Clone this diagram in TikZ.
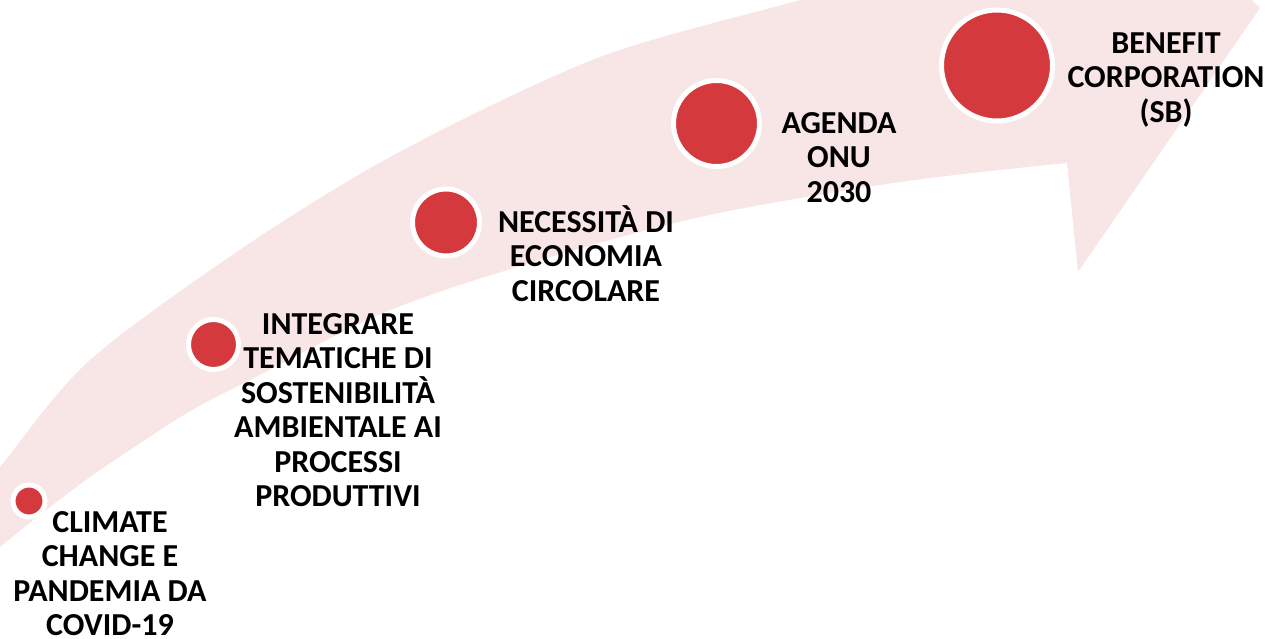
\documentclass[tikz,border=0pt]{standalone}
\usepackage{fontspec}
\setmainfont{Carlito}
\definecolor{arrowpink}{RGB}{248,229,230}
\definecolor{dotred}{RGB}{212,57,62}
\tikzset{
  dot/.style={circle, fill=dotred, draw=white, line width=5pt, inner sep=0pt},
  lbl/.style={anchor=north, align=center, inner sep=0pt, font=\bfseries\fontsize{32}{34.5}\selectfont},
}
\newcommand{\fst}{\rule{0pt}{28pt}}
\begin{document}
\begin{tikzpicture}[x=1pt,y=-1pt]
\useasboundingbox (0,0) rectangle (1268,639);
\begin{scope}
\clip (0,0) rectangle (1268,639);
\fill[arrowpink] plot[smooth] coordinates {(-40,515) (0,467) (90,360) (250,243) (403,150) (600,57) (800,0) (900,-30)}
  -- (1000,-250) -- (1260,8) -- (1078,272) -- (1067,163)
  -- plot[smooth] coordinates {(1067,163) (900,182) (700,217) (517,267) (383,313) (250,380) (187,413) (100,470) (50,507) (0,547) (-40,582)}
  -- cycle;
\end{scope}
\node[dot, minimum size=32pt] (c1) at (29,501) {};
\node[dot, minimum size=50pt] (c2) at (213.5,344.5) {};
\node[dot, minimum size=67pt] (c3) at (446,222.5) {};
\node[dot, minimum size=86pt] (c4) at (716.5,123.5) {};
\node[dot, minimum size=111pt] (c5) at (997,65.5) {};
\node[lbl] (t1) at (110,504.1) {\fst CLIMATE\\CHANGE E\\PANDEMIA DA\\COVID-19};
\node[lbl] (t2) at (338,306.1) {\fst INTEGRARE\\TEMATICHE DI\\SOSTENIBILITÀ\\AMBIENTALE AI\\PROCESSI\\PRODUTTIVI};
\node[lbl] (t3) at (586,204.1) {\fst NECESSITÀ DI\\ECONOMIA\\CIRCOLARE};
\node[lbl] (t4) at (839,105.1) {\fst AGENDA\\ONU\\2030};
\node[lbl] (t5) at (1166,25.1) {\fst BENEFIT\\CORPORATION\\(SB)};
\end{tikzpicture}
\end{document}
